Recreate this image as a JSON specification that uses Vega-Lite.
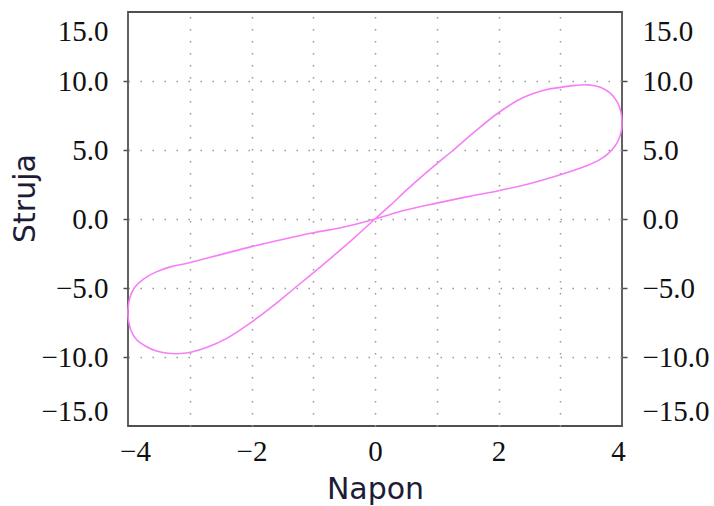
{
  "$schema": "https://vega.github.io/schema/vega-lite/v6.json",
  "width": 494,
  "height": 414,
  "autosize": "none",
  "padding": {"left": 128, "top": 12, "right": 92, "bottom": 80},
  "background": "white",
  "config": {
    "view": {"stroke": "#505050", "strokeWidth": 1.8},
    "axis": {
      "labelFont": "Liberation Serif",
      "labelFontSize": 29,
      "labelColor": "#111111",
      "titleFont": "DejaVu Sans",
      "titleFontSize": 30,
      "titleFontWeight": "normal",
      "titleColor": "#1c1c38",
      "domain": false,
      "labelFlush": false,
      "tickColor": "#505050",
      "tickWidth": 1.5,
      "tickSize": 5,
      "gridColor": "#9a9a9a",
      "gridWidth": 1.5,
      "gridDash": [1.5, 10.5]
    }
  },
  "data": {
    "values": [
      {"k": 0, "napon": 0, "struja": 0},
      {"k": 1, "napon": 0.25, "struja": 1.0},
      {"k": 2, "napon": 0.5, "struja": 2.05},
      {"k": 3, "napon": 0.75, "struja": 3.05},
      {"k": 4, "napon": 1.0, "struja": 4.0},
      {"k": 5, "napon": 1.27, "struja": 5.0},
      {"k": 6, "napon": 1.62, "struja": 6.35},
      {"k": 7, "napon": 2.0, "struja": 7.7},
      {"k": 8, "napon": 2.4, "struja": 8.8},
      {"k": 9, "napon": 2.75, "struja": 9.35},
      {"k": 10, "napon": 3.0, "struja": 9.54},
      {"k": 11, "napon": 3.25, "struja": 9.68},
      {"k": 12, "napon": 3.45, "struja": 9.72},
      {"k": 13, "napon": 3.65, "struja": 9.55},
      {"k": 14, "napon": 3.8, "struja": 9.15},
      {"k": 15, "napon": 3.92, "struja": 8.5},
      {"k": 16, "napon": 3.98, "struja": 7.8},
      {"k": 17, "napon": 4.0, "struja": 7.0},
      {"k": 18, "napon": 3.99, "struja": 6.4},
      {"k": 19, "napon": 3.95, "struja": 5.8},
      {"k": 20, "napon": 3.88, "struja": 5.25},
      {"k": 21, "napon": 3.78, "struja": 4.75},
      {"k": 22, "napon": 3.64, "struja": 4.3},
      {"k": 23, "napon": 3.45, "struja": 3.9},
      {"k": 24, "napon": 3.2, "struja": 3.5},
      {"k": 25, "napon": 3.0, "struja": 3.2},
      {"k": 26, "napon": 2.5, "struja": 2.55},
      {"k": 27, "napon": 2.0, "struja": 2.05},
      {"k": 28, "napon": 1.5, "struja": 1.62},
      {"k": 29, "napon": 1.0, "struja": 1.15},
      {"k": 30, "napon": 0.5, "struja": 0.65},
      {"k": 31, "napon": 0, "struja": 0},
      {"k": 32, "napon": -0.5, "struja": -0.58},
      {"k": 33, "napon": -1.0, "struja": -1.0},
      {"k": 34, "napon": -1.5, "struja": -1.48},
      {"k": 35, "napon": -2.0, "struja": -2.0},
      {"k": 36, "napon": -2.5, "struja": -2.58},
      {"k": 37, "napon": -3.04, "struja": -3.2},
      {"k": 38, "napon": -3.3, "struja": -3.45},
      {"k": 39, "napon": -3.55, "struja": -3.85},
      {"k": 40, "napon": -3.75, "struja": -4.35},
      {"k": 41, "napon": -3.89, "struja": -4.95},
      {"k": 42, "napon": -3.97, "struja": -5.7},
      {"k": 43, "napon": -4.0, "struja": -6.6},
      {"k": 44, "napon": -3.99, "struja": -7.4},
      {"k": 45, "napon": -3.95, "struja": -8.1},
      {"k": 46, "napon": -3.86, "struja": -8.75},
      {"k": 47, "napon": -3.72, "struja": -9.2},
      {"k": 48, "napon": -3.55, "struja": -9.55},
      {"k": 49, "napon": -3.35, "struja": -9.73},
      {"k": 50, "napon": -3.15, "struja": -9.75},
      {"k": 51, "napon": -2.95, "struja": -9.62},
      {"k": 52, "napon": -2.72, "struja": -9.3},
      {"k": 53, "napon": -2.4, "struja": -8.65},
      {"k": 54, "napon": -2.04, "struja": -7.6},
      {"k": 55, "napon": -1.65, "struja": -6.3},
      {"k": 56, "napon": -1.3, "struja": -5.0},
      {"k": 57, "napon": -1.0, "struja": -3.9},
      {"k": 58, "napon": -0.72, "struja": -2.85},
      {"k": 59, "napon": -0.35, "struja": -1.42},
      {"k": 60, "napon": 0, "struja": 0}
    ]
  },
  "layer": [
    {
      "mark": {"type": "point", "opacity": 0},
      "encoding": {
        "x": {
          "field": "napon", "type": "quantitative",
          "scale": {"domain": [-4, 4], "nice": false, "zero": false},
          "axis": {
            "orient": "top", "values": [-3, -2, -1, 0, 1, 2, 3],
            "grid": true, "labels": false, "ticks": false, "title": null
          }
        },
        "y": {
          "field": "struja", "type": "quantitative",
          "scale": {"domain": [-15, 15], "nice": false, "zero": false},
          "axis": {
            "orient": "right", "values": [-15, -10, -5, 0, 5, 10, 15],
            "format": ".1f", "grid": false, "title": null,
            "labelPadding": 15, "labelAlign": "left",
            "tickOpacity": {"condition": {"test": "abs(datum.value) == 15", "value": 0}, "value": 1},
            "labelOffset": {"condition": [{"test": "datum.value == 15", "value": 19}, {"test": "datum.value == -15", "value": -15}], "value": 0}
          }
        }
      }
    },
    {
      "mark": {"type": "line", "color": "#f57ff5", "strokeWidth": 1.6, "interpolate": "catmull-rom"},
      "encoding": {
        "x": {
          "field": "napon", "type": "quantitative",
          "scale": {"domain": [-4, 4], "nice": false, "zero": false},
          "axis": {
            "orient": "bottom", "values": [-4, -2, 0, 2, 4],
            "grid": false, "ticks": false, "tickSize": 0, "labelPadding": 11,
            "title": "Napon", "titleX": 247, "titleY": 72, "titleBaseline": "alphabetic",
            "labelOffset": {"condition": [{"test": "datum.value == -4", "value": 7}, {"test": "datum.value == 4", "value": -4}], "value": 0}
          }
        },
        "y": {
          "field": "struja", "type": "quantitative",
          "scale": {"domain": [-15, 15], "nice": false, "zero": false},
          "axis": {
            "orient": "left", "values": [-15, -10, -5, 0, 5, 10, 15],
            "format": ".1f", "grid": true, "labelPadding": 15,
            "gridOpacity": {"condition": {"test": "abs(datum.value) == 15", "value": 0}, "value": 1},
            "tickOpacity": {"condition": {"test": "abs(datum.value) == 15", "value": 0}, "value": 1},
            "labelOffset": {"condition": [{"test": "datum.value == 15", "value": 19}, {"test": "datum.value == -15", "value": -15}], "value": 0},
            "title": "Struja", "titleX": -94, "titleY": 186, "titleAngle": 270,
            "titleAlign": "center", "titleBaseline": "alphabetic"
          }
        },
        "order": {"field": "k", "type": "quantitative"}
      }
    }
  ],
  "resolve": {"axis": {"x": "independent", "y": "independent"}}
}
